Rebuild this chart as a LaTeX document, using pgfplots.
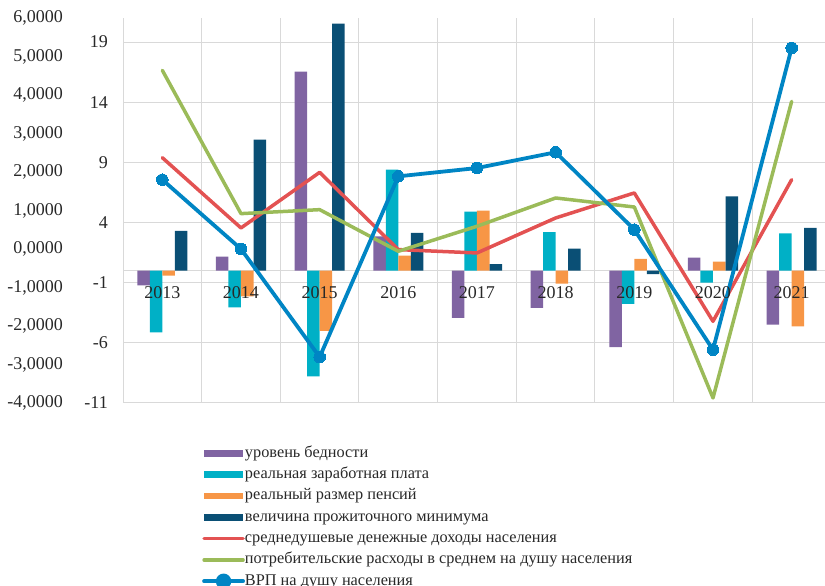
\documentclass[border=0pt]{standalone}
\usepackage{fontspec}
\setmainfont{Liberation Serif}
\usepackage{pgfplots}
\pgfplotsset{compat=1.18}
\definecolor{cPurple}{RGB}{128,100,162}
\definecolor{cCyan}{RGB}{0,176,198}
\definecolor{cOrange}{RGB}{247,150,70}
\definecolor{cDark}{RGB}{10,79,117}
\definecolor{cRed}{RGB}{227,82,82}
\definecolor{cGreen}{RGB}{155,187,89}
\definecolor{cBlue}{RGB}{0,133,196}
\definecolor{cGrid}{RGB}{217,217,217}
\definecolor{cText}{RGB}{40,40,40}
\begin{document}
\begin{tikzpicture}
\path[use as bounding box] (0,0) rectangle (825pt,586pt);
% outer (left) scale
\begin{axis}[
  at={(123pt,183pt)}, anchor=south west,
  scale only axis, width=708pt, height=385pt,
  xmin=-0.5, xmax=8.5, ymin=-4, ymax=6,
  hide x axis, axis y line*=left, y axis line style={draw=none},
  major tick length=0pt,
  ytick={-4,-3,-2,-1,0,1,2,3,4,5,6},
  yticklabels={{-4,0000},{-3,0000},{-2,0000},{-1,0000},{0,0000},{1,0000},{2,0000},{3,0000},{4,0000},{5,0000},{6,0000}},
  yticklabel style={anchor=east, xshift=-60pt, inner sep=0pt, font=\fontsize{18}{20}\selectfont, text=cText},
]
\addplot[draw=none] coordinates {(0,0)};
\end{axis}
% main axis
\begin{axis}[
  at={(123pt,183pt)}, anchor=south west,
  scale only axis, width=708pt, height=385pt,
  xmin=-0.5, xmax=8.5, ymin=-11, ymax=21,
  axis x line*=middle, axis y line*=left,
  x axis line style={draw=cGrid, line width=1pt},
  y axis line style={draw=none},
  xtick={0,1,2,3,4,5,6,7,8},
  xticklabels={},
  minor xtick={-0.5,0.5,1.5,2.5,3.5,4.5,5.5,6.5,7.5},
  xminorgrids,
  ytick={-11,-6,-1,4,9,14,19},
  yticklabels={-11,-6,-1,4,9,14,19},
  ymajorgrids,
  grid style={cGrid, line width=1pt},
  minor grid style={cGrid, line width=1pt},
  major tick length=0pt, minor tick length=0pt,
  tick label style={font=\fontsize{18}{20}\selectfont, text=cText, inner sep=0pt},
  yticklabel style={anchor=east, xshift=-15pt},
  legend style={at={(0.1073,-0.104)}, anchor=north west, draw=none, fill=none,
    font=\fontsize{16.3}{18}\selectfont, text=cText, row sep=4.8pt,
    nodes={inner sep=0pt, text height=12pt, text depth=4.5pt},
    /tikz/every even column/.append style={column sep=7pt}},
  legend cell align=left,
]
\addplot[ybar, bar width=0.159, bar shift=-0.2385, fill=cPurple, draw=none,
  legend image code/.code={\fill[cPurple] (0pt,-3.3pt) rectangle (39pt,3.3pt);}]
  coordinates {(0,-1.22) (1,1.16) (2,16.54) (3,2.85) (4,-3.93) (5,-3.10) (6,-6.35) (7,1.08) (8,-4.49)};
\addlegendentry{уровень бедности}
\addplot[ybar, bar width=0.159, bar shift=-0.0795, fill=cCyan, draw=none,
  legend image code/.code={\fill[cCyan] (0pt,-3.3pt) rectangle (39pt,3.3pt);}]
  coordinates {(0,-5.13) (1,-3.05) (2,-8.78) (3,8.40) (4,4.90) (5,3.21) (6,-2.77) (7,-1.00) (8,3.10)};
\addlegendentry{реальная заработная плата}
\addplot[ybar, bar width=0.159, bar shift=0.0795, fill=cOrange, draw=none,
  legend image code/.code={\fill[cOrange] (0pt,-3.3pt) rectangle (39pt,3.3pt);}]
  coordinates {(0,-0.42) (1,-2.13) (2,-5.01) (3,1.25) (4,4.99) (5,-1.08) (6,0.97) (7,0.75) (8,-4.63)};
\addlegendentry{реальный размер пенсий}
\addplot[ybar, bar width=0.159, bar shift=0.2385, fill=cDark, draw=none,
  legend image code/.code={\fill[cDark] (0pt,-3.3pt) rectangle (39pt,3.3pt);}]
  coordinates {(0,3.30) (1,10.89) (2,20.53) (3,3.13) (4,0.55) (5,1.83) (6,-0.28) (7,6.18) (8,3.55)};
\addlegendentry{величина прожиточного минимума}
\addplot[cRed, line width=3.5pt, line join=round, line cap=round,
  legend image code/.code={\draw[cRed, line width=3.5pt, line cap=round] (0pt,0pt) -- (39pt,0pt);}]
  coordinates {(0,9.39) (1,3.55) (2,8.17) (3,1.75) (4,1.47) (5,4.38) (6,6.46) (7,-4.21) (8,7.56)};
\addlegendentry{среднедушевые денежные доходы населения}
\addplot[cGreen, line width=3.5pt, line join=round, line cap=round,
  legend image code/.code={\draw[cGreen, line width=3.5pt, line cap=round] (0pt,0pt) -- (39pt,0pt);}]
  coordinates {(0,16.65) (1,4.74) (2,5.07) (3,1.61) (4,3.69) (5,6.04) (6,5.29) (7,-10.58) (8,14.07)};
\addlegendentry{потребительские расходы в среднем на душу населения}
\addplot[cBlue, line width=3.8pt, line join=round, line cap=round, mark=*, mark size=5.8pt,
  mark options={fill=cBlue, draw=cBlue, line width=0pt},
  legend image code/.code={\draw[cBlue, line width=3.8pt, line cap=round] (0pt,0pt) -- (39pt,0pt); \fill[cBlue] (19.5pt,0pt) circle (5.8pt);}]
  coordinates {(0,7.56) (1,1.80) (2,-7.18) (3,7.84) (4,8.53) (5,9.84) (6,3.41) (7,-6.57) (8,18.51)};
\addlegendentry{ВРП на душу населения}
\end{axis}
% overlay axis: category labels drawn on top of the bars
\begin{axis}[
  at={(123pt,183pt)}, anchor=south west,
  scale only axis, width=708pt, height=385pt,
  xmin=-0.5, xmax=8.5, ymin=-11, ymax=21,
  axis x line*=middle, hide y axis,
  x axis line style={draw=none},
  major tick length=0pt,
  xtick={0,1,2,3,4,5,6,7,8},
  xticklabels={2013,2014,2015,2016,2017,2018,2019,2020,2021},
  xticklabel style={anchor=north, yshift=-16pt, inner sep=0pt, font=\fontsize{18}{20}\selectfont, text=cText},
]
\addplot[draw=none] coordinates {(0,0)};
\end{axis}
\end{tikzpicture}
\end{document}
